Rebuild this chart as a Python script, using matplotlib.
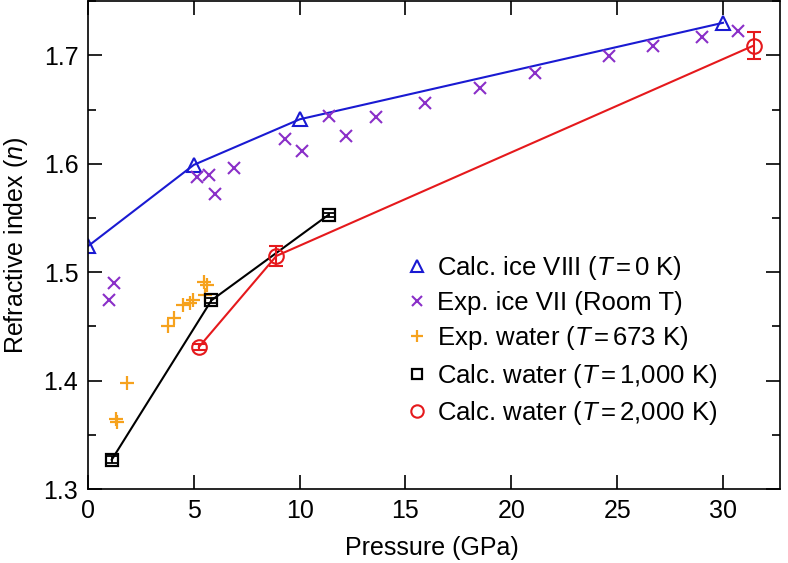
import matplotlib
matplotlib.use('Agg')
import matplotlib.pyplot as plt
from matplotlib.ticker import MultipleLocator

plt.rcParams['font.family'] = ['Liberation Sans', 'DejaVu Sans']
plt.rcParams['mathtext.fontset'] = 'custom'
plt.rcParams['mathtext.rm'] = 'Liberation Sans'
plt.rcParams['mathtext.it'] = 'Liberation Sans:italic'

# calc ice VIII, T=0 K
p_ice8 = [0, 5, 10, 30]
n_ice8 = [1.524, 1.599, 1.641, 1.730]

# exp ice VII, room T
p_ice7 = [1.0, 1.23, 5.13, 5.7, 6.0, 6.9, 9.3, 10.1, 11.4, 12.2, 13.6, 15.9,
          18.5, 21.1, 24.6, 26.7, 29.0, 30.7]
n_ice7 = [1.474, 1.490, 1.588, 1.590, 1.572, 1.596, 1.623, 1.612, 1.644, 1.626,
          1.643, 1.656, 1.670, 1.684, 1.699, 1.709, 1.717, 1.722]

# exp water, T=673 K
p_w673 = [1.3, 1.35, 1.85, 3.8, 4.05, 4.5, 4.8, 4.97, 5.5, 5.6, 5.52]
n_w673 = [1.365, 1.362, 1.398, 1.450, 1.458, 1.470, 1.472, 1.474, 1.491, 1.488, 1.479]

# calc water, T=1,000 K
p_w1000 = [1.12, 5.83, 11.37]
n_w1000 = [1.327, 1.474, 1.553]
e_w1000 = [0.003, 0.002, 0.002]

# calc water, T=2,000 K
p_w2000 = [5.24, 8.9, 31.45]
n_w2000 = [1.431, 1.515, 1.709]
e_w2000 = [0.003, 0.0095, 0.0125]

blue = '#1a1ad2'
purple = '#8a2fc8'
orange = '#f6a21d'
red = '#e5191c'

fig = plt.figure(figsize=(7.88, 5.63), dpi=100)
ax = fig.add_axes([0.1117, 0.1314, 0.8783, 0.8666])

ax.plot(p_ice8, n_ice8, '-', color=blue, lw=1.5)
ax.plot(p_w1000, n_w1000, '-', color='black', lw=1.5)
ax.plot(p_w2000, n_w2000, '-', color=red, lw=1.5)
ax.errorbar(p_w1000, n_w1000, yerr=e_w1000, fmt='none', ecolor='black', elinewidth=1.3, capsize=4, capthick=1.3)
ax.errorbar(p_w2000, n_w2000, yerr=e_w2000, fmt='none', ecolor=red, elinewidth=1.5, capsize=5, capthick=1.5)

ax.plot(p_ice8, n_ice8, '^', ls='none', ms=10.5, mfc='none', mec=blue, mew=1.5,
        label=r'Calc. ice VIII ($T\,$=$\,$0 K)')
ax.plot(p_ice7, n_ice7, 'x', ls='none', ms=8.5, mec=purple, mew=1.5,
        label='Exp. ice VII (Room T)')
ax.plot(p_w673, n_w673, '+', ls='none', ms=9.5, mec=orange, mew=1.6,
        label=r'Exp. water ($T\,$=$\,$673 K)')
ax.plot(p_w1000, n_w1000, 's', ls='none', ms=9, mfc='none', mec='black', mew=1.6,
        label=r'Calc. water ($T\,$=$\,$1,000 K)')
ax.plot(p_w2000, n_w2000, 'o', ls='none', ms=10.5, mfc='none', mec=red, mew=1.5,
        label=r'Calc. water ($T\,$=$\,$2,000 K)')

ax.set_xlim(0, 32.7)
ax.set_ylim(1.3, 1.75)
ax.xaxis.set_major_locator(MultipleLocator(5))
ax.yaxis.set_major_locator(MultipleLocator(0.1))
ax.yaxis.set_minor_locator(MultipleLocator(0.05))
ax.tick_params(which='both', direction='in', top=True, right=True, labelsize=18, width=1.2)
ax.tick_params(which='major', length=10, pad=7)
ax.tick_params(which='minor', length=6)
for s in ax.spines.values():
    s.set_linewidth(1.2)

ax.set_xlabel('Pressure (GPa)', fontsize=18)
ax.set_ylabel(r'Refractive index ($n$)', fontsize=18)
ax.xaxis.set_label_coords(0.497, -0.097)
ax.yaxis.set_label_coords(-0.084, 0.5)

ax.legend(loc='upper left', bbox_to_anchor=(0.5127, 0.549), bbox_transform=fig.transFigure,
          frameon=False, fontsize=18.5, markerscale=0.85, handlelength=1.0,
          handletextpad=0.3, labelspacing=0.36, borderpad=0, borderaxespad=0)

fig.savefig('out.png', dpi=100)
